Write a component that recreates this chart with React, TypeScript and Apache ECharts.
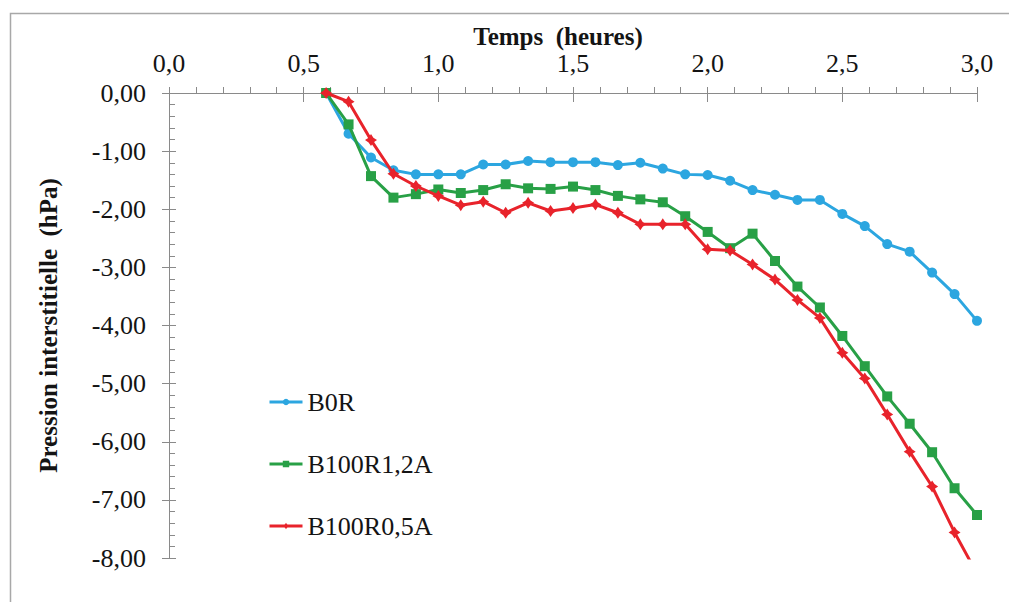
import React, { useEffect, useRef } from "react";
import * as echarts from "echarts";

// Time in minutes (converted to hours for the x axis)
const minutes = [35, 40, 45, 50, 55, 60, 65, 70, 75, 80, 85, 90, 95, 100, 105, 110, 115, 120, 125, 130, 135, 140, 145, 150, 155, 160, 165, 170, 175, 180];

const seriesNames = ["B0R", "B100R1,2A", "B100R0,5A"];

const b0r = [0, -0.70, -1.11, -1.33, -1.40, -1.40, -1.40, -1.23, -1.23, -1.17, -1.19, -1.19, -1.19, -1.24, -1.20, -1.30, -1.40, -1.41, -1.51, -1.67, -1.75, -1.84, -1.84, -2.08, -2.29, -2.60, -2.73, -3.09, -3.46, -3.92];
const b100r12a = [0, -0.54, -1.43, -1.80, -1.74, -1.66, -1.72, -1.67, -1.57, -1.64, -1.65, -1.61, -1.67, -1.77, -1.83, -1.88, -2.12, -2.39, -2.67, -2.42, -2.89, -3.33, -3.69, -4.18, -4.70, -5.22, -5.69, -6.18, -6.80, -7.26];
const b100r05a = [0, -0.15, -0.81, -1.39, -1.60, -1.77, -1.93, -1.87, -2.06, -1.89, -2.03, -1.98, -1.92, -2.06, -2.26, -2.26, -2.26, -2.69, -2.71, -2.95, -3.21, -3.56, -3.87, -4.47, -4.91, -5.53, -6.17, -6.77, -7.56, -8.27];

const xTitle = "Temps  (heures)";
const yTitle = "Pression interstitielle  (hPa)";

const colors = ["#2CA6E0", "#28A046", "#E8232B"];

const FONT = "'Liberation Serif', 'Times New Roman', serif";
const AXIS_COLOR = "#8a8a8a";
const TEXT_COLOR = "#141414";

const toPairs = (vals: number[]) => vals.map((v, i) => [minutes[i] / 60, v]);

const starPath = "path://M0,-10 L4,-4 L10,0 L4,4 L0,10 L-4,4 L-10,0 L-4,-4 Z";

export default function App() {
  const ref = useRef<HTMLDivElement>(null);

  useEffect(() => {
    if (!ref.current) return;
    const chart = echarts.init(ref.current, undefined, { renderer: "svg" });

    const xFmt = (v: number) => v.toFixed(1).replace(".", ",");
    const yFmt = (v: number) => v.toFixed(2).replace(".", ",");

    const option: any = {
      animation: false,
      backgroundColor: "#ffffff",
      textStyle: { fontFamily: FONT },
      grid: { left: 169, right: 32, top: 93, bottom: 44, containLabel: false },
      graphic: [
        {
          type: "rect",
          shape: { x: 10.5, y: 13.5, width: 1200, height: 800 },
          style: { fill: "none", stroke: "#a8a8a8", lineWidth: 1.5 },
          silent: true,
        },
      ],
      legend: {
        orient: "vertical",
        left: 268,
        top: 389,
        padding: 0,
        itemGap: 36,
        itemWidth: 33,
        itemHeight: 8,
        data: seriesNames,
        lineStyle: { width: 3 },
        textStyle: { fontFamily: FONT, fontSize: 26, color: TEXT_COLOR, lineHeight: 26 },
      },
      xAxis: [
        {
          type: "value",
          position: "top",
          min: 0,
          max: 3,
          interval: 0.5,
          name: xTitle,
          nameLocation: "middle",
          nameGap: 44,
          nameMoveOverlap: false,
          nameTextStyle: {
            fontFamily: FONT,
            fontSize: 25,
            fontWeight: "bold",
            color: TEXT_COLOR,
            padding: [0, 30, 0, 0],
          },
          axisLine: { show: true, lineStyle: { color: AXIS_COLOR, width: 1 } },
          axisTick: { show: true, inside: false, length: 6, lineStyle: { color: AXIS_COLOR } },
          minorTick: { show: true, splitNumber: 5, length: 6, lineStyle: { color: AXIS_COLOR } },
          axisLabel: { fontFamily: FONT, fontSize: 26, color: TEXT_COLOR, margin: 17, formatter: xFmt },
          splitLine: { show: false },
          minorSplitLine: { show: false },
        },
        {
          type: "value",
          position: "top",
          min: 0,
          max: 3,
          interval: 0.5,
          axisLine: { show: false },
          axisTick: { show: true, inside: true, length: 9, lineStyle: { color: AXIS_COLOR } },
          axisLabel: { show: false },
          splitLine: { show: false },
        },
      ],
      yAxis: [
        {
          type: "value",
          position: "left",
          min: -8,
          max: 0,
          interval: 1,
          name: yTitle,
          nameLocation: "middle",
          nameGap: 108,
          nameRotate: 90,
          nameTextStyle: { fontFamily: FONT, fontSize: 25, fontWeight: "bold", color: TEXT_COLOR },
          axisLine: { show: true, lineStyle: { color: AXIS_COLOR, width: 1 } },
          axisTick: { show: true, inside: true, length: 7, lineStyle: { color: AXIS_COLOR } },
          minorTick: { show: true, splitNumber: 5, length: 6, lineStyle: { color: AXIS_COLOR } },
          axisLabel: { fontFamily: FONT, fontSize: 26, color: TEXT_COLOR, margin: 23, formatter: yFmt },
          splitLine: { show: false },
          minorSplitLine: { show: false },
        },
        {
          type: "value",
          position: "left",
          min: -8,
          max: 0,
          interval: 1,
          axisLine: { show: false },
          axisTick: { show: true, inside: false, length: 7, lineStyle: { color: AXIS_COLOR } },
          axisLabel: { show: false },
          splitLine: { show: false },
        },
      ],
      series: [
        {
          name: seriesNames[0],
          type: "line",
          xAxisIndex: 0,
          yAxisIndex: 0,
          data: toPairs(b0r),
          symbol: "circle",
          symbolSize: 10,
          color: colors[0],
          lineStyle: { width: 3, color: colors[0] },
          itemStyle: { color: colors[0] },
          clip: true,
          z: 2,
        },
        {
          name: seriesNames[1],
          type: "line",
          xAxisIndex: 0,
          yAxisIndex: 0,
          data: toPairs(b100r12a),
          symbol: "rect",
          symbolSize: 10,
          color: colors[1],
          lineStyle: { width: 3, color: colors[1] },
          itemStyle: { color: colors[1] },
          clip: true,
          z: 3,
        },
        {
          name: seriesNames[2],
          type: "line",
          xAxisIndex: 0,
          yAxisIndex: 0,
          data: toPairs(b100r05a),
          symbol: starPath,
          symbolSize: 12,
          color: colors[2],
          lineStyle: { width: 3, color: colors[2] },
          itemStyle: { color: colors[2] },
          clip: true,
          z: 4,
        },
      ],
    };

    chart.setOption(option);
    return () => {
      chart.dispose();
    };
  }, []);

  return (
    <div
      ref={ref}
      style={{ position: "absolute", left: 0, top: 0, width: 1009, height: 602, background: "#ffffff" }}
    />
  );
}
